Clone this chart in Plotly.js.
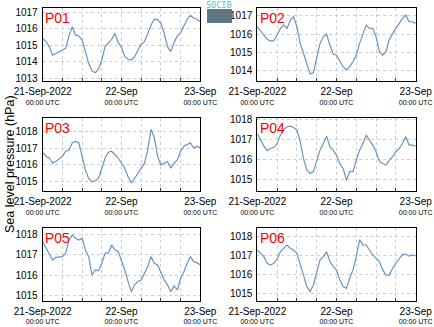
<!DOCTYPE html>
<html><head><meta charset="utf-8">
<script src="https://cdn.plot.ly/plotly-3.0.1.min.js"></script>
<style>html,body{margin:0;padding:0;background:#fff}#c{width:434px;height:327px}</style>
</head><body><div id="c"></div>
<script>
const hours = Array.from({length:49},(_,i)=>i);
const stations = ["P01","P02","P03","P04","P05","P06"];
const p01 = [1015.42,1015.22,1014.92,1014.41,1014.5,1014.62,1014.72,1014.82,1015.57,1016.13,1015.63,1015.57,1015.32,1014.62,1013.91,1013.46,1013.34,1013.55,1014.11,1014.92,1015.16,1015.36,1015.73,1015.16,1014.88,1014.31,1014.17,1014.11,1014.31,1014.72,1015.08,1015.22,1015.73,1016.23,1016.6,1016.54,1016.33,1015.73,1014.92,1014.62,1015.16,1015.57,1015.77,1016.23,1016.58,1016.82,1016.64,1016.58,1016.43];
const p02 = [1016.4,1016.18,1015.95,1015.71,1015.62,1015.64,1015.95,1016.31,1016.49,1016.31,1016.76,1016.95,1016.4,1015.49,1014.95,1014.4,1013.82,1013.89,1014.67,1015.49,1015.85,1016.0,1015.4,1014.91,1014.85,1014.49,1014.22,1014.04,1014.22,1014.49,1014.85,1015.49,1016.04,1016.49,1016.31,1016.31,1015.85,1015.04,1014.85,1015.04,1015.71,1016.04,1016.31,1016.58,1016.85,1017.04,1016.67,1016.67,1016.58];
const p03 = [1016.75,1016.5,1016.4,1016.09,1016.19,1016.36,1016.5,1016.81,1016.87,1017.32,1017.42,1017.32,1016.5,1015.68,1015.16,1014.96,1015.02,1015.16,1015.78,1016.4,1016.75,1016.81,1016.6,1016.4,1016.09,1015.78,1015.27,1014.9,1015.16,1015.47,1015.78,1016.09,1016.91,1018.14,1017.63,1016.5,1015.99,1016.09,1016.19,1015.78,1016.09,1016.29,1016.81,1017.12,1017.22,1017.32,1017.01,1017.12,1017.01];
const p04 = [1017.28,1016.95,1016.65,1016.42,1016.53,1016.58,1016.78,1017.2,1017.48,1017.62,1017.65,1017.58,1017.45,1016.87,1016.03,1015.45,1015.28,1015.37,1015.95,1016.45,1016.78,1017.15,1016.62,1016.45,1016.2,1015.78,1015.53,1014.95,1015.37,1015.37,1015.95,1016.45,1016.78,1017.2,1016.95,1016.7,1016.37,1015.87,1015.78,1015.7,1015.95,1016.12,1016.37,1016.53,1016.78,1017.12,1016.7,1016.7,1016.65];
const p05 = [1017.64,1017.32,1017.08,1016.75,1016.88,1016.88,1016.91,1017.08,1017.72,1017.97,1017.81,1017.72,1017.81,1017.24,1016.91,1016.02,1016.26,1016.23,1016.59,1017.08,1017.08,1017.48,1017.24,1017.16,1016.75,1016.26,1015.7,1015.21,1015.54,1015.7,1015.78,1016.14,1016.43,1016.91,1016.59,1016.51,1016.18,1015.78,1015.54,1015.21,1015.49,1015.29,1015.86,1016.18,1016.59,1016.91,1016.67,1016.62,1016.51];
const p06 = [1017.28,1017.1,1016.93,1016.58,1016.49,1016.58,1016.79,1017.19,1017.37,1017.54,1017.37,1017.28,1017.1,1016.58,1015.96,1015.35,1015.09,1015.44,1016.05,1016.75,1016.93,1017.19,1016.67,1016.4,1016.23,1015.7,1015.35,1015.26,1015.79,1016.23,1016.93,1017.81,1017.54,1017.54,1017.28,1017.02,1016.84,1016.67,1016.23,1015.96,1015.96,1016.32,1016.58,1016.84,1017.05,1017.05,1016.96,1017.02,1016.96];
const series = [p01,p02,p03,p04,p05,p06];
const yRanges = [[1012.84,1017.26],[1013.44,1017.42],[1014.4,1018.86],[1014.4,1018.085],[1014.77,1018.29],[1014.61,1018.42]];
const xTickVals = ["2022-09-21 00:00","2022-09-22 00:00","2022-09-23 00:00"];
const xTickTop = ["21-Sep-2022","22-Sep","23-Sep"];
const xTickSub = "00:00 UTC";
const yTitle = "Sea level pressure (hPa)";

const t0 = Date.UTC(2022,8,21,0,0);
function ts(h){const d=new Date(t0+h*3600000);return d.toISOString().slice(0,19).replace('T',' ');}
const times = hours.map(ts);

const W=434,H=327;
const xDoms=[[42.7,200.3],[257.3,415.7]];
const yDoms=[[8,81],[117.5,191],[228.3,300.7]];
const traces=[];
const FONT='Liberation Sans, Arial';
const layout={width:W,height:H,margin:{l:0,r:0,t:0,b:0},paper_bgcolor:'#fff',plot_bgcolor:'#fff',showlegend:false,annotations:[],shapes:[]};
series.forEach((vals,i)=>{
  const n=i+1, col=i%2, row=Math.floor(i/2);
  const sfx=(n===1?'':String(n));
  traces.push({x:times,y:vals,type:'scatter',mode:'lines',line:{color:'#6795c2',width:1.2},xaxis:'x'+sfx,yaxis:'y'+sfx,hoverinfo:'skip'});
  layout['xaxis'+sfx]={type:'date',domain:[xDoms[col][0]/W,xDoms[col][1]/W],anchor:'y'+sfx,
    range:["2022-09-21 00:00","2022-09-23 00:00"],tickmode:'array',tickvals:xTickVals,
    ticktext:xTickTop.map(t=>'<span style="font-size:10px">'+t+'</span><br>'+xTickSub),
    showgrid:true,gridcolor:'#cfcfcf',griddash:'dot',gridwidth:1,
    minor:{dtick:6*3600000,showgrid:true,gridcolor:'#cfcfcf',griddash:'dot',ticks:'inside',ticklen:3,tickcolor:'#333'},
    ticks:'inside',ticklen:3,tickcolor:'#333',ticklabelstandoff:5,
    showline:true,linecolor:'#000',linewidth:1,mirror:true,zeroline:false,
    tickfont:{family:FONT,size:7,color:'#000'},tickangle:0,fixedrange:true};
  layout['yaxis'+sfx]={domain:[1-yDoms[row][1]/H,1-yDoms[row][0]/H],anchor:'x'+sfx,
    range:yRanges[i],dtick:1,tick0:1000,showgrid:true,gridcolor:'#cfcfcf',griddash:'dot',gridwidth:1,
    showline:true,linecolor:'#000',linewidth:1,mirror:true,zeroline:false,ticks:'',
    tickformat:'d',tickfont:{family:FONT,size:10,color:'#000'},ticklabelstandoff:2,fixedrange:true};
  layout.annotations.push({xref:'x'+sfx+' domain',yref:'y'+sfx+' domain',x:0.005,y:1,xanchor:'left',yanchor:'top',
    text:stations[i],showarrow:false,font:{family:FONT,size:14,color:'#ff0000'}});
});
layout.annotations.push({xref:'paper',yref:'paper',x:10/W,y:1-164/H,xanchor:'center',yanchor:'middle',text:yTitle,textangle:-90,showarrow:false,
  font:{family:FONT,size:12.5,color:'#000'}});
layout.annotations.push({xref:'paper',yref:'paper',x:219.5/W,y:1-5/H,xanchor:'center',yanchor:'middle',text:'SOCIB',showarrow:false,
  font:{family:'DejaVu Sans Mono',size:8.5,color:'#49c4d6'}});
layout.shapes.push({type:'rect',xref:'paper',yref:'paper',x0:207/W,x1:232/W,y0:1-23/H,y1:1-9/H,fillcolor:'#5d7884',line:{width:0}});
Plotly.newPlot('c',traces,layout,{staticPlot:true,displayModeBar:false});
</script></body></html>
